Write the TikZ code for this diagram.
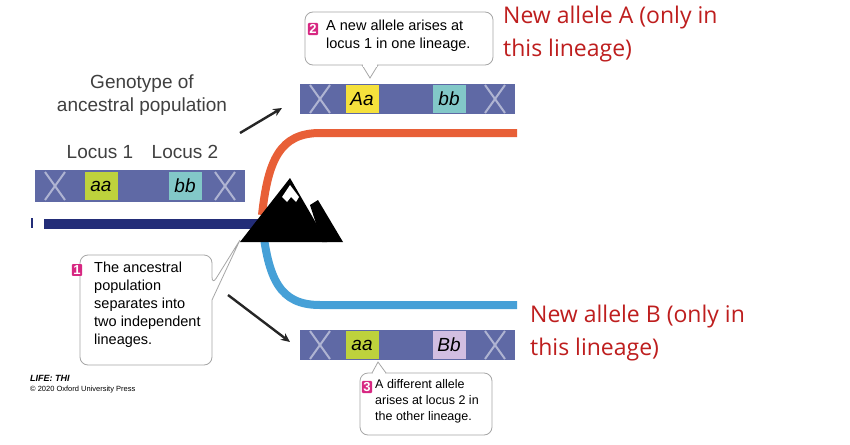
\documentclass[tikz,border=0pt]{standalone}
\usepackage{fontspec}
\setmainfont{Liberation Sans}
\newfontfamily\redfont{Open Sans}
\usetikzlibrary{arrows.meta,calc}
\definecolor{chromo}{RGB}{95,105,165}
\definecolor{navy}{RGB}{35,45,120}
\definecolor{orng}{RGB}{232,95,55}
\definecolor{sky}{RGB}{70,160,215}
\definecolor{redtxt}{RGB}{190,30,30}
\definecolor{badge}{RGB}{215,40,130}
\definecolor{ygreen}{RGB}{190,210,60}
\definecolor{yel}{RGB}{245,225,60}
\definecolor{cyn}{RGB}{130,200,200}
\definecolor{lav}{RGB}{210,190,225}
\tikzset{
  chrom/.style={fill=chromo, draw=none},
  gene/.style={draw=none, minimum width=33pt, minimum height=28pt, inner sep=0pt, font=\fontsize{19}{19}\selectfont\itshape},
  call/.style={draw=gray!70, fill=white, rounded corners=8pt, line width=0.8pt},
  ctext/.style={align=left, font=\fontsize{14.5}{18}\selectfont, anchor=north west, inner sep=0pt},
  bdg/.style={fill=badge, text=white, font=\fontsize{13}{13}\selectfont\bfseries, inner sep=1.5pt, rounded corners=1pt},
  red/.style={text=redtxt, font=\redfont\fontsize{23}{33}\selectfont, align=left, anchor=north west, inner sep=0pt},
  lbl/.style={font=\fontsize{19}{23}\selectfont, text=black!75, align=center},
  arr/.style={-{Stealth[length=9pt,width=8pt]}, line width=2.4pt, black!85}
}
\begin{document}
\begin{tikzpicture}[x=1pt,y=-1pt]
\useasboundingbox (0,0) rectangle (850,444);
\fill[white] (0,0) rectangle (850,444);
% lineages
\draw[orng, line width=8pt] (262,215) .. controls (268,160) and (280,133) .. (320,133) -- (517,133);
\draw[sky, line width=8pt] (262,222) .. controls (268,280) and (280,305) .. (320,305) -- (517,305);
% ancestral bar
\fill[navy] (31,218) rectangle (33,228);
\fill[navy] (44,219) rectangle (262,229);
% labels
\node[lbl] (geno) at (142,95) {Genotype of\\ancestral population};
\node[lbl] (l1) at (100,152) {Locus 1};
\node[lbl] (l2) at (185,152) {Locus 2};
% chromosomes
\fill[chromo] (35,170) rectangle (245,202);
\node[gene, fill=ygreen] (g1) at (101,186) {aa};
\node[gene, fill=cyn] (g2) at (185,186) {bb};
\fill[chromo] (300,84) rectangle (515,114);
\node[gene, fill=yel] (g3) at (362,99) {Aa};
\node[gene, fill=cyn] (g4) at (449,99) {bb};
\fill[chromo] (300,330) rectangle (515,360);
\node[gene, fill=ygreen] (g5) at (362,345) {aa};
\node[gene, fill=lav] (g6) at (449,345) {Bb};
% crossover hints
\foreach \x/\y in {55/186,225/186,320/99,495/99,320/345,495/345}{
  \draw[white, opacity=0.5, line width=2pt] (\x-10,\y-14) -- (\x+10,\y+14) (\x-10,\y+14) -- (\x+10,\y-14);
}
% mountain
\fill[black] (240,242) -- (290,178) -- (327,242) -- cycle;
\fill[black] (310,205) -- (318,200) -- (343,242) -- (322,242) -- cycle;
\fill[white] (290,185) -- (282,197) -- (287,202) -- (291,197) -- (296,202) -- (299,197) -- cycle;
% arrows
\coordinate (a1s) at (240,133); \coordinate (a1e) at (282,108);
\draw[arr] (a1s) -- (a1e);
\coordinate (a2s) at (228,295); \coordinate (a2e) at (290,342);
\draw[arr] (a2s) -- (a2e);
% callout 1
\draw[call] (80,255) -- (212,255) -- (212,285) [sharp corners] -- (240,240) -- (212,300) [rounded corners=8pt] -- (212,365) -- (80,365) -- cycle;
\node[bdg] (b1) at (77,270) {1};
\node[ctext] (t1) at (94,262) {The ancestral\\population\\separates into\\two independent\\lineages.};
% callout 2
\draw[call] (305,12) rectangle (493,65);
\fill[white,draw=gray!70,line width=0.8pt] (362,65) -- (370,78) -- (378,65);
\fill[white] (363,63) rectangle (377,66.5);
\node[bdg] (b2) at (313,29) {2};
\node[ctext] (t2) at (326,20) {A new allele arises at\\locus 1 in one lineage.};
% callout 3
\draw[call] (360,373) rectangle (492,435);
\fill[white,draw=gray!70,line width=0.8pt] (372,373) -- (378,362) -- (386,373);
\fill[white] (373,371.5) rectangle (385,375);
\node[bdg] (b3) at (367,387) {3};
\node[ctext, font=\fontsize{12.5}{16}\selectfont] (t3) at (375,379) {A different allele\\arises at locus 2 in\\the other lineage.};
% red notes
\node[red] (ra) at (503,6) {New allele A (only in\\this lineage)};
\node[red] (rb) at (530,305) {New allele B (only in\\this lineage)};
% credits
\node[anchor=west, inner sep=0pt, font=\fontsize{9}{9}\selectfont\bfseries\itshape] (cr1) at (30,378) {LIFE: THI};
\node[anchor=west, inner sep=0pt, font=\fontsize{7.5}{8}\selectfont] (cr2) at (30,390) {© 2020 Oxford University Press};
\end{tikzpicture}
\end{document}
